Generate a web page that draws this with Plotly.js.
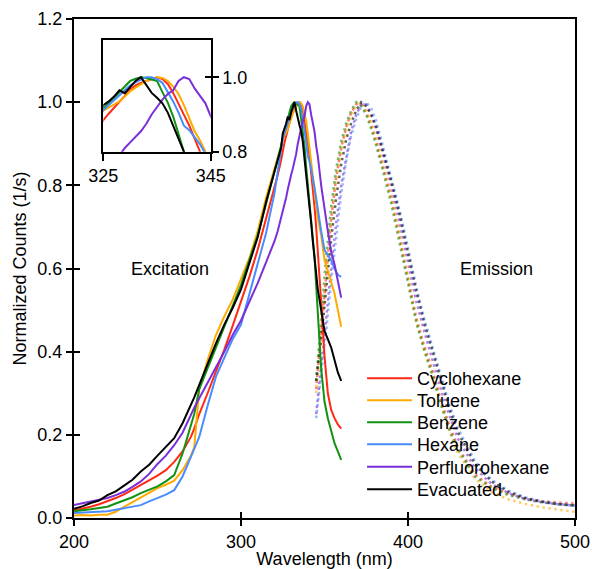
<!DOCTYPE html>
<html>
<head>
<meta charset="utf-8">
<script src="https://cdn.plot.ly/plotly-3.0.1.min.js"></script>
<style>
html,body{margin:0;padding:0;background:#fff;}
#chart{width:592px;height:569px;}
</style>
</head>
<body>
<div id="chart"></div>
<script>
// ---------- DATA ----------
const seriesNames = ["Cyclohexane", "Toluene", "Benzene", "Hexane", "Perfluorohexane", "Evacuated"];
const seriesColors = ["#ff2a14", "#ffaa00", "#129212", "#4a8cff", "#7a2fd9", "#000000"];

// Excitation wavelength grid (nm)
const exX = [200,205,210,215,220,225,230,235,240,245,250,255,260,265,270,272,275,280,285,290,295,300,305,310,315,320,322,324,
  325,326,327,328,329,330,331,332,333,334,335,336,337,338,339,340,341,342,343,344,345,346,348,350,352,354,356,358,360];

const exCyclohexane = [0.018,0.022,0.027,0.033,0.040,0.048,0.057,0.068,0.080,0.090,0.102,0.115,0.135,0.160,0.195,0.215,0.250,0.300,0.352,0.405,0.462,0.520,0.580,0.645,0.720,0.790,0.825,0.860,
  0.885,0.902,0.918,0.932,0.950,0.968,0.978,0.985,0.990,0.997,1.000,0.995,0.982,0.958,0.930,0.900,0.870,0.835,0.800,0.750,0.700,0.645,0.520,0.390,0.300,0.260,0.240,0.225,0.215];
const exToluene = [0.006,0.007,0.006,0.008,0.008,0.015,0.027,0.038,0.051,0.062,0.072,0.080,0.090,0.115,0.150,0.170,0.310,0.380,0.440,0.485,0.525,0.575,0.625,0.690,0.770,0.840,0.865,0.893,
  0.910,0.918,0.926,0.935,0.948,0.962,0.972,0.982,0.990,0.996,1.000,0.998,0.990,0.975,0.955,0.925,0.890,0.855,0.830,0.800,0.755,0.720,0.680,0.620,0.595,0.565,0.540,0.500,0.460];
const exBenzene = [0.016,0.018,0.021,0.024,0.027,0.035,0.042,0.050,0.060,0.068,0.076,0.088,0.103,0.155,0.220,0.250,0.310,0.360,0.410,0.460,0.510,0.560,0.620,0.680,0.755,0.830,0.860,0.895,
  0.915,0.930,0.945,0.962,0.975,0.990,0.996,1.000,0.998,0.995,0.990,0.960,0.932,0.895,0.845,0.800,0.765,0.730,0.680,0.630,0.560,0.490,0.360,0.280,0.240,0.210,0.180,0.160,0.140];
const exHexane = [0.012,0.013,0.014,0.015,0.016,0.020,0.024,0.028,0.031,0.040,0.048,0.056,0.067,0.100,0.147,0.165,0.195,0.270,0.340,0.385,0.430,0.465,0.540,0.610,0.685,0.780,0.835,0.885,
  0.912,0.925,0.938,0.952,0.965,0.978,0.986,0.994,1.000,1.000,0.995,0.985,0.960,0.935,0.905,0.870,0.858,0.840,0.820,0.795,0.770,0.740,0.690,0.645,0.632,0.620,0.600,0.585,0.580];
const exPerfluorohexane = [0.031,0.035,0.040,0.044,0.048,0.055,0.063,0.075,0.088,0.106,0.130,0.150,0.175,0.205,0.250,0.265,0.288,0.325,0.360,0.400,0.440,0.475,0.520,0.565,0.615,0.665,0.690,0.720,
  0.740,0.755,0.770,0.790,0.810,0.825,0.840,0.855,0.875,0.900,0.920,0.940,0.955,0.965,0.990,1.000,0.995,0.970,0.950,0.930,0.895,0.870,0.800,0.740,0.690,0.640,0.610,0.570,0.530];
const exEvacuated = [0.022,0.028,0.036,0.042,0.055,0.064,0.078,0.092,0.112,0.128,0.150,0.170,0.192,0.228,0.270,0.290,0.320,0.370,0.420,0.465,0.505,0.550,0.610,0.675,0.760,0.835,0.862,0.890,
  0.925,0.935,0.948,0.965,0.957,0.975,0.990,1.000,0.980,0.958,0.945,0.930,0.905,0.865,0.830,0.790,0.755,0.710,0.665,0.620,0.580,0.550,0.500,0.450,0.430,0.410,0.380,0.350,0.330];

// Emission wavelength grid (nm)
const emX = [345,348,351,354,357,360,363,366,369,372,375,378,381,385,390,395,400,405,410,415,420,425,430,440,450,460,470,480,490,500];

const emCyclohexane = [0.31,0.45,0.60,0.72,0.82,0.89,0.94,0.975,0.995,0.995,0.975,0.945,0.905,0.845,0.77,0.675,0.575,0.48,0.41,0.35,0.28,0.22,0.17,0.105,0.075,0.058,0.047,0.041,0.037,0.035];
const emToluene = [0.30,0.44,0.58,0.71,0.81,0.88,0.935,0.97,0.99,1.0,0.98,0.95,0.91,0.85,0.775,0.68,0.575,0.475,0.40,0.335,0.265,0.205,0.155,0.095,0.062,0.045,0.034,0.026,0.020,0.015];
const emBenzene = [0.33,0.48,0.63,0.75,0.84,0.905,0.95,0.98,1.0,0.99,0.97,0.935,0.895,0.835,0.755,0.66,0.565,0.47,0.40,0.34,0.27,0.21,0.165,0.10,0.072,0.055,0.045,0.038,0.033,0.030];
const emHexane = [0.24,0.34,0.45,0.57,0.68,0.78,0.86,0.92,0.96,0.99,1.0,0.985,0.955,0.895,0.82,0.74,0.65,0.555,0.475,0.405,0.335,0.27,0.215,0.138,0.092,0.066,0.050,0.040,0.034,0.030];
const emPerfluorohexane = [0.25,0.36,0.48,0.60,0.71,0.80,0.87,0.93,0.97,0.995,0.995,0.97,0.935,0.875,0.80,0.71,0.615,0.52,0.445,0.375,0.305,0.245,0.19,0.12,0.082,0.06,0.046,0.038,0.033,0.030];
const emEvacuated = [0.33,0.43,0.55,0.67,0.77,0.85,0.91,0.95,0.98,1.0,0.99,0.97,0.94,0.885,0.81,0.73,0.64,0.545,0.465,0.395,0.325,0.26,0.205,0.13,0.088,0.063,0.048,0.039,0.033,0.030];

const xTicks = [200,300,400,500];
const yTicks = [0.0,0.2,0.4,0.6,0.8,1.0,1.2];
const insetXTicks = [325,345];
const insetYTicks = [0.8,1.0];
const labelExcitation = "Excitation";
const labelEmission = "Emission";

// ---------- BUILD ----------
const exSeries = [exCyclohexane, exToluene, exBenzene, exHexane, exPerfluorohexane, exEvacuated];
const emSeries = [emCyclohexane, emToluene, emBenzene, emHexane, emPerfluorohexane, emEvacuated];
const FONT = "Liberation Sans, Arial, Helvetica, sans-serif";
const legendIds = ['legend', 'legend2', 'legend3', 'legend4', 'legend5', 'legend6'];

const traces = [];
// emission (dotted, behind)
emSeries.forEach((ys, i) => {
  traces.push({x: emX, y: ys, type: 'scatter', mode: 'lines', xaxis: 'x', yaxis: 'y',
    line: {color: seriesColors[i], width: 2.5, dash: '2.5px,3.5px'}, opacity: 0.6,
    showlegend: false, hoverinfo: 'skip'});
});
// excitation (solid)
exSeries.forEach((ys, i) => {
  traces.push({x: exX, y: ys, type: 'scatter', mode: 'lines', xaxis: 'x', yaxis: 'y',
    name: seriesNames[i], legend: legendIds[i], line: {color: seriesColors[i], width: 2}, showlegend: true});
});
// inset copies
exSeries.forEach((ys, i) => {
  traces.push({x: exX, y: ys, type: 'scatter', mode: 'lines', xaxis: 'x2', yaxis: 'y2',
    line: {color: seriesColors[i], width: 2}, showlegend: false, hoverinfo: 'skip'});
});
// empty helper traces for inner tick overlays
traces.push({x: [], y: [], xaxis: 'x3', yaxis: 'y', showlegend: false, hoverinfo: 'skip', mode: 'lines'});
traces.push({x: [], y: [], xaxis: 'x', yaxis: 'y3', showlegend: false, hoverinfo: 'skip', mode: 'lines'});
traces.push({x: [], y: [], xaxis: 'x2', yaxis: 'y4', showlegend: false, hoverinfo: 'skip', mode: 'lines'});

const tickFont = {family: FONT, size: 18, color: '#000'};

const layout = {
  width: 592, height: 569,
  margin: {l: 74, r: 17, t: 19, b: 51},
  paper_bgcolor: '#fff', plot_bgcolor: 'rgba(0,0,0,0)',
  font: {family: FONT, size: 18, color: '#000'},
  showlegend: true,
  xaxis: {domain: [0, 1], range: [200, 500], tickvals: xTicks, ticks: 'outside', ticklen: 6, tickwidth: 2,
    tickcolor: '#000', showline: true, linewidth: 2, linecolor: '#000', mirror: true, showgrid: false,
    zeroline: false, tickfont: tickFont, title: {text: 'Wavelength (nm)', font: {family: FONT, size: 18}, standoff: 2}},
  yaxis: {domain: [0, 1], range: [0, 1.2], tickvals: yTicks, tickformat: '.1f', ticks: 'outside', ticklen: 6, tickwidth: 2,
    tickcolor: '#000', showline: true, linewidth: 2, linecolor: '#000', mirror: true, showgrid: false,
    zeroline: false, tickfont: tickFont, title: {text: 'Normalized Counts (1/s)', font: {family: FONT, size: 18}, standoff: 6}},
  xaxis3: {overlaying: 'x', anchor: 'y', range: [200, 500], tickvals: xTicks, ticks: 'inside', ticklen: 6, tickwidth: 2,
    tickcolor: '#000', showticklabels: false, showline: false, showgrid: false, zeroline: false},
  yaxis3: {overlaying: 'y', anchor: 'x', side: 'left', range: [0, 1.2], tickvals: yTicks, ticks: 'inside', ticklen: 6, tickwidth: 2,
    tickcolor: '#000', showticklabels: false, showline: false, showgrid: false, zeroline: false},
  xaxis2: {domain: [0.0585, 0.273], anchor: 'y2', range: [325, 345], tickvals: insetXTicks, ticks: 'outside', ticklen: 7, tickwidth: 2,
    tickcolor: '#000', showline: true, linewidth: 2, linecolor: '#000', mirror: true, showgrid: false, zeroline: false, tickfont: tickFont},
  yaxis2: {domain: [0.734, 0.958], anchor: 'x2', side: 'right', range: [0.8, 1.1], tickvals: insetYTicks, tickformat: '.1f',
    ticks: 'outside', ticklen: 6, tickwidth: 2, tickcolor: '#000', showline: true, linewidth: 2, linecolor: '#000', mirror: true,
    showgrid: false, zeroline: false, tickfont: tickFont},
  yaxis4: {overlaying: 'y2', anchor: 'x2', side: 'right', range: [0.8, 1.1], tickvals: insetYTicks, ticks: 'inside', ticklen: 6, tickwidth: 2,
    tickcolor: '#000', showticklabels: false, showline: false, showgrid: false, zeroline: false},
  annotations: [
    {x: 257.5, y: 0.60, xref: 'x', yref: 'y', text: labelExcitation, showarrow: false, font: {family: FONT, size: 18, color: '#000'}},
    {x: 452.7, y: 0.60, xref: 'x', yref: 'y', text: labelEmission, showarrow: false, font: {family: FONT, size: 18, color: '#000'}}
  ]
};

// one single-entry legend per series so the row spacing matches the reference
const rowCenters = [378, 400, 422, 444, 466.5, 489];
legendIds.forEach((id, i) => {
  layout[id] = {x: 0.575, y: (518 - (rowCenters[i] - 18)) / 499, xanchor: 'left', yanchor: 'top',
    bgcolor: 'rgba(0,0,0,0)', font: {family: FONT, size: 18, color: '#000'}, itemwidth: 45};
});

Plotly.newPlot('chart', traces, layout, {staticPlot: true, displayModeBar: false});
</script>
</body>
</html>
